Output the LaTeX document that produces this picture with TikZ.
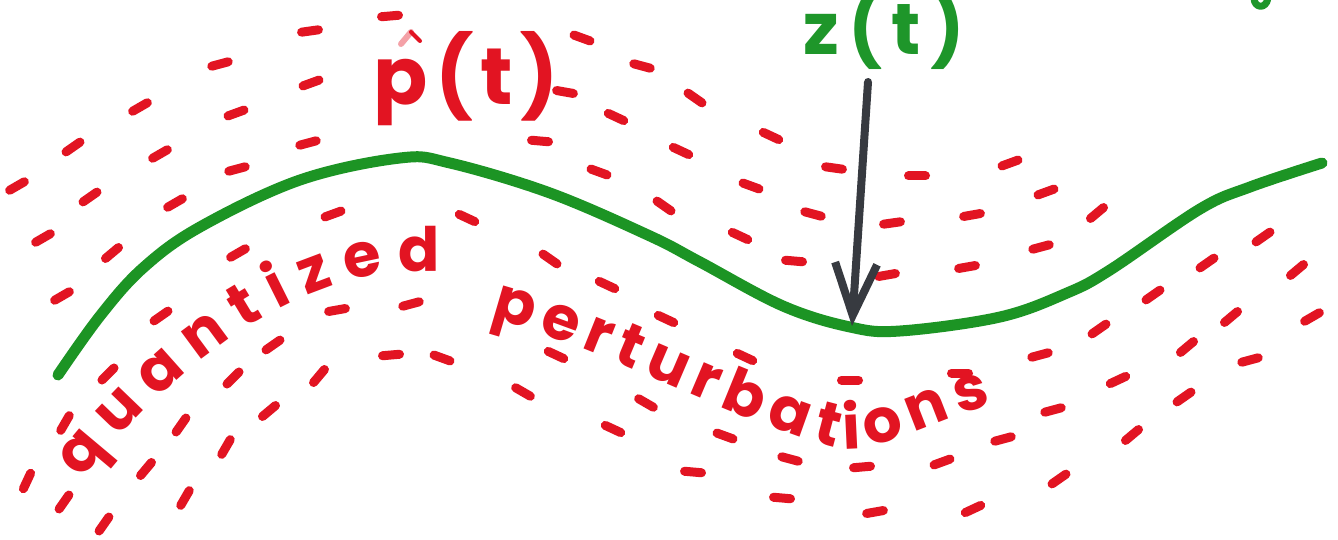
\documentclass[tikz,border=0pt]{standalone}
\usepackage{fontspec}
\newfontfamily\hand{Poppins}
\usetikzlibrary{decorations.text,arrows.meta}
\definecolor{mred}{RGB}{226,20,34}
\definecolor{mgreen}{RGB}{30,150,42}
\definecolor{mcurve}{RGB}{28,148,36}
\definecolor{mgray}{RGB}{55,58,64}
\newcommand\qfont{\hand\bfseries\fontsize{61}{61}\selectfont\color{mred}}
\begin{document}
\begin{tikzpicture}[x=1pt,y=-1pt,line cap=round,line join=round,
  dsh/.style={mred,line width=9pt},
  lbl/.style={inner sep=0pt,anchor=base}]
\useasboundingbox (0,0) rectangle (1338,540);
\fill[white] (0,0) rectangle (1338,540);

% red dashes
\foreach \x/\y/\a in {
390/16/5, 310/31/8, 220/64/15, 311/83/20, 140/107/30, 236/113/20, 73/147/35, 160/154/30,
308/143/15, 17/186/30, 90/197/35, 237/169/15, 175/203/30, 333/214/20, 43/238/30, 112/253/40,
238/253/30,
582/38/-20, 642/66/-15, 565/92/-10, 695/98/-35, 616/117/-25, 540/141/-5, 771/136/-25,
681/151/-25, 834/168/-8, 599/172/-20, 751/186/-20, 664/206/-35, 813/214/-15, 892/223/8,
467/218/-25, 740/236/-25, 794/261/-5, 550/259/-35,
917/176/0, 1010/163/20, 1046/192/20, 972/215/10, 1097/213/40, 1041/247/15, 967/267/10,
1207/263/35, 1263/237/35, 1297/270/40,
62/296/30, 161/316/35, 108/374/45, 273/345/35, 233/378/45, 337/310/10, 411/304/15,
391/355/5, 442/358/-20, 319/376/50, 269/411/40, 65/423/60, 181/425/55, 226/447/60,
146/469/50, 27/481/65, 64/502/55, 185/498/60, 104/524/55,
607/285/-25, 666/319/-25, 556/355/-25, 523/392/-30, 646/403/-30, 613/429/-25, 745/357/-25,
725/436/-20, 693/472/-5, 790/459/-15, 850/380/0, 862/467/5, 782/498/-5, 875/512/10, 887/275/10,
960/373/0, 1040/355/15, 1099/329/35, 1153/295/35, 1231/317/40, 1312/317/30, 1187/347/40,
1250/360/15, 1118/380/25, 1184/397/35, 1053/410/15, 1003/439/15, 942/462/20, 1132/435/40,
1059/479/35, 973/509/25}
  \draw[dsh,shift={(\x,\y)},rotate=\a] (-8.5,0) -- (8.5,0);

% green curve
\draw[mcurve,line width=11pt] plot[smooth,tension=0.6] coordinates {
(58,375) (100,316) (143,268) (200,227) (300,180) (400,158) (450,163) (550,193)
(650,236) (700,262) (783,306) (850,327) (900,331) (1000,317) (1067,293) (1110,270)
(1200,209) (1250,187) (1322,163)};

% labels
\node[lbl,font=\hand\bfseries\fontsize{80}{80}\selectfont\addfontfeature{LetterSpace=9},text=mred] (pt) at (466,105) {p(t)};
\draw[mred!40,line width=6pt] (401,44) -- (411,32);
\draw[mred,line width=4pt] (411,32) -- (420,41);
\node[lbl,font=\hand\bfseries\fontsize{72}{72}\selectfont\addfontfeature{LetterSpace=13},text=mgreen] (zt) at (884,55) {z(t)};
\draw[mgreen,line width=7pt] (1254,-2) .. controls (1254,8) and (1266,10) .. (1268,-2);

% arrow
\coordinate (ztop) at (868,82);
\coordinate (zmin) at (852,326);
\draw[mgray,line width=8pt,-{Straight Barb[length=52pt,width=42pt,line width=8pt]}] (ztop) -- (zmin);

% text along curved baselines
\path[decorate,decoration={text along path,text={|\qfont|quantized},text align={fit to path}}]
  (82,480) .. controls (190,345) and (320,262) .. (440,272);
\path[decorate,decoration={text along path,text={|\qfont|perturbations},text align={fit to path}}]
  (490,318) .. controls (600,345) and (760,435) .. (845,449)
  .. controls (880,452) and (945,415) .. (992,405);
\end{tikzpicture}
\end{document}
